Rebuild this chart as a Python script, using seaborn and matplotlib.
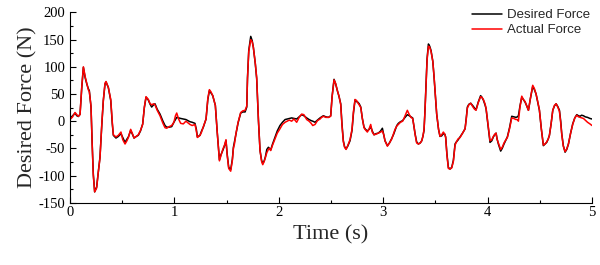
import numpy as np
import pandas as pd
import matplotlib
matplotlib.use("Agg")
import matplotlib.pyplot as plt
import seaborn as sns
from matplotlib.ticker import MultipleLocator

# values
time = [0.00, 0.025, 0.048, 0.065, 0.080, 0.096, 0.112, 0.128, 0.145, 0.16, 0.175, 0.185,
        0.201, 0.212, 0.223, 0.236, 0.255, 0.27, 0.287, 0.305, 0.319, 0.335, 0.345, 0.367,
        0.39, 0.405, 0.415, 0.44, 0.463, 0.488, 0.505, 0.527, 0.545, 0.559, 0.581, 0.60,
        0.613, 0.635, 0.654, 0.675, 0.696, 0.712, 0.728, 0.75, 0.765, 0.782, 0.80, 0.814,
        0.835, 0.862, 0.89, 0.91, 0.926, 0.95, 0.974, 0.995, 1.01, 1.022, 1.04, 1.06,
        1.085, 1.11, 1.13, 1.149, 1.17, 1.197, 1.21, 1.22, 1.245, 1.26, 1.277, 1.303,
        1.32, 1.335, 1.35, 1.367, 1.392, 1.41, 1.431, 1.445, 1.463, 1.48, 1.494, 1.505,
        1.52, 1.539, 1.555, 1.565, 1.575, 1.59, 1.61, 1.635, 1.655, 1.677, 1.693, 1.70,
        1.712, 1.731, 1.745, 1.756, 1.775, 1.788, 1.805, 1.82, 1.835, 1.846, 1.86, 1.871,
        1.885, 1.9, 1.91, 1.922, 1.94, 1.964, 1.985, 2.011, 2.035, 2.06, 2.08, 2.10,
        2.123, 2.145, 2.171, 2.195, 2.219, 2.24, 2.267, 2.29, 2.31, 2.325, 2.347, 2.37,
        2.395, 2.41, 2.427, 2.45, 2.475, 2.497, 2.51, 2.529, 2.545, 2.561, 2.577, 2.593,
        2.605, 2.618, 2.63, 2.644, 2.66, 2.682, 2.701, 2.715, 2.73, 2.745, 2.756, 2.77,
        2.785, 2.80, 2.816, 2.83, 2.848, 2.865, 2.88, 2.895, 2.912, 2.93, 2.953, 2.975,
        2.992, 3.005, 3.017, 3.04, 3.06, 3.081, 3.10, 3.113, 3.13, 3.145, 3.165, 3.186,
        3.205, 3.231, 3.25, 3.265, 3.282, 3.295, 3.305, 3.32, 3.337, 3.355, 3.369, 3.38,
        3.391, 3.40, 3.41, 3.42, 3.433, 3.445, 3.458, 3.475, 3.487, 3.50, 3.512, 3.53,
        3.544, 3.56, 3.576, 3.59, 3.598, 3.61, 3.624, 3.64, 3.656, 3.672, 3.688, 3.697,
        3.715, 3.736, 3.76, 3.784, 3.795, 3.806, 3.82, 3.838, 3.86, 3.875, 3.889, 3.91,
        3.933, 3.945, 3.959, 3.975, 3.985, 4.005, 4.023, 4.04, 4.055, 4.068, 4.081, 4.09,
        4.103, 4.125, 4.14, 4.157, 4.172, 4.189, 4.21, 4.231, 4.25, 4.272, 4.285, 4.295,
        4.31, 4.327, 4.342, 4.359, 4.375, 4.391, 4.41, 4.432, 4.448, 4.464, 4.48, 4.496,
        4.515, 4.534, 4.55, 4.566, 4.58, 4.592, 4.608, 4.624, 4.64, 4.656, 4.672, 4.688,
        4.70, 4.71, 4.725, 4.742, 4.758, 4.774, 4.795, 4.815, 4.835, 4.854, 4.87, 4.886,
        4.90, 4.918, 4.935, 4.957, 4.98, 5.0]

desired = [5, 10, 14.7, 10, 8.6, 13, 60, 99, 80, 69, 60, 56,
           26, -40, -97, -130, -121, -95, -66, -5, 38, 68, 72, 62,
           38, -5, -26, -31, -28, -23, -30, -39, -33, -29, -17, -25,
           -31, -28, -26, -18, -5, 25, 44, 39, 32, 26, 30, 32,
           22, 13, 0, -8, -11, -11, -10, -2, 3, 7, 6, 5,
           4, 3, 1, -1, -2, -4, -15, -29, -26, -18, -11, 4,
           40, 56, 52, 47, 29, -20, -71, -62, -54, -45, -36, -60,
           -85, -89, -70, -48, -38, -23, -3, 15, 17, 17, 26, 80,
           130, 156, 148, 136, 105, 78, 0, -54, -72, -78, -73, -66,
           -52, -48, -50, -53, -42, -29, -18, -8, -2, 3, 4, 5,
           6, 5, 4, 8, 12, 10, 6, 3, 1, 0, -2, 2,
           6, 8, 10, 8, 7, 10, 45, 77, 68, 56, 45, 32,
           -5, -36, -47, -51, -46, -36, -17, 15, 39, 36, 35, 32,
           26, 5, -11, -15, -18, -15, -10, -18, -25, -23, -22, -18,
           -13, -25, -36, -45, -40, -32, -24, -17, -8, -4, -1, 1,
           6, 12, 10, 8, 6, -10, -23, -38, -42, -40, -36, -28,
           -17, 20, 69, 115, 142, 138, 130, 110, 81, 45, 13, -15,
           -28, -27, -23, -24, -29, -60, -85, -88, -85, -72, -42, -39,
           -35, -29, -22, -14, 5, 26, 31, 33, 28, 24, 21, 35,
           47, 44, 39, 30, 23, -10, -39, -36, -29, -25, -22, -32,
           -42, -55, -50, -42, -36, -29, -12, 9, 8, 7, 8, 10,
           28, 44, 40, 35, 28, 20, 42, 64, 58, 50, 35, 20,
           -15, -45, -42, -39, -33, -26, -5, 20, 28, 32, 27, 20,
           0, -23, -45, -57, -52, -42, -22, -5, 6, 12, 10, 9,
           11, 10, 8, 7, 5, 4]

actual = [3, 8, 16, 12, 9, 12, 62, 100, 82, 70, 58, 54,
          28, -42, -100, -130, -123, -95, -68, -3, 38, 70, 73, 62,
          40, -2, -25, -29, -26, -20, -34, -42, -36, -30, -15, -24,
          -31, -28, -25, -17, -6, 26, 45, 40, 33, 30, 32, 30,
          20, 10, -4, -12, -13, -10, -8, -2, 10, 15, 4, -4,
          -5, 0, -3, -6, -8, -6, -18, -30, -26, -20, -10, 4,
          42, 58, 54, 47, 29, -20, -73, -64, -52, -44, -34, -62,
          -87, -92, -72, -50, -42, -22, -2, 16, 19, 20, 28, 78,
          128, 150, 146, 136, 106, 80, 2, -54, -74, -80, -74, -67,
          -58, -52, -50, -54, -44, -32, -22, -14, -6, -2, 0, 2,
          0, 4, -2, 7, 13, 12, 3, 0, -4, -8, -6, 1,
          4, 7, 9, 7, 7, 9, 44, 76, 69, 56, 46, 30,
          -8, -38, -48, -52, -45, -34, -15, 18, 40, 38, 34, 30,
          25, 5, -12, -16, -20, -14, -6, -20, -25, -24, -22, -20,
          -18, -25, -36, -46, -40, -33, -22, -15, -9, -6, -2, 0,
          8, 20, 12, 7, 5, -10, -24, -40, -42, -40, -36, -28,
          -15, 18, 66, 112, 138, 136, 128, 110, 82, 46, 14, -15,
          -28, -25, -20, -24, -30, -62, -87, -88, -86, -74, -44, -40,
          -33, -30, -22, -14, 3, 24, 30, 33, 26, 22, 20, 34,
          45, 44, 40, 32, 24, -8, -36, -34, -28, -24, -22, -33,
          -40, -52, -48, -40, -35, -30, -14, 6, 5, 3, 3, 0,
          26, 46, 40, 36, 28, 20, 42, 66, 60, 50, 36, 21,
          -15, -44, -42, -38, -33, -26, -5, 20, 29, 32, 26, 18,
          -3, -24, -46, -56, -51, -42, -22, -6, 6, 11, 8, 7,
          6, 5, 2, -2, -5, -8]

series = ["Desired Force", "Actual Force"]
colors = ["black", "red"]

df = pd.concat([
    pd.DataFrame({"Time": time, "Force": desired, "Series": series[0]}),
    pd.DataFrame({"Time": time, "Force": actual, "Series": series[1]}),
])

sns.set_style("ticks")
plt.rcParams["font.family"] = ["Liberation Serif", "DejaVu Serif"]
plt.rcParams["axes.unicode_minus"] = False

fig = plt.figure(figsize=(6, 2.65), dpi=100)
ax = fig.add_axes([0.1167, 0.235, 0.87, 0.718])

sns.lineplot(data=df, x="Time", y="Force", hue="Series", hue_order=series,
             palette=colors, linewidth=1.1, sort=False, estimator=None, ax=ax)

ax.set_xlim(0, 5)
ax.set_ylim(-150, 200)
ax.xaxis.set_major_locator(MultipleLocator(1))
ax.xaxis.set_minor_locator(MultipleLocator(0.5))
ax.yaxis.set_major_locator(MultipleLocator(50))
ax.yaxis.set_minor_locator(MultipleLocator(25))
ax.tick_params(which="both", direction="in", labelsize=10.5, width=0.8, colors="black")
ax.tick_params(which="major", length=4)
ax.tick_params(which="minor", length=2.5)
ax.tick_params(axis="x", pad=2)

sns.despine(ax=ax)
for s in ["left", "bottom"]:
    ax.spines[s].set_linewidth(0.8)
    ax.spines[s].set_color("black")

ax.set_xlabel("Time (s)", fontsize=16, labelpad=5)
ax.set_ylabel("Desired Force (N)", fontsize=16, labelpad=1)

leg = ax.legend(loc="upper right", bbox_to_anchor=(0.993, 0.985), bbox_transform=fig.transFigure,
                frameon=False, handlelength=2.3, handletextpad=0.4, labelspacing=0.2,
                borderaxespad=0, prop={"family": "Liberation Sans", "size": 9.5})

fig.savefig("out.png", dpi=100)
